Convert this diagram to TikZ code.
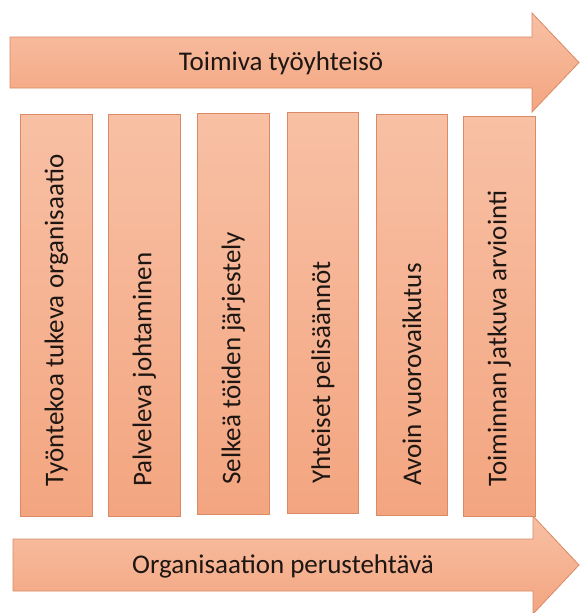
\documentclass[tikz,border=0pt]{standalone}
\usepackage{fontspec}
\setmainfont{Carlito}
\definecolor{peachtop}{RGB}{248,192,164}
\definecolor{peachbot}{RGB}{243,165,128}
\definecolor{peachedge}{RGB}{218,138,100}
\definecolor{inktext}{RGB}{30,22,18}
\tikzset{
  band/.style={draw=peachedge, line width=0.8pt, top color=peachtop, bottom color=peachbot, line join=miter},
  pillar/.style={band, rectangle, inner sep=0pt, anchor=north west},
  pillartext/.style={rotate=90, anchor=west, inner sep=0pt, text=inktext, font=\fontsize{27}{32}\selectfont},
  bandtext/.style={text=inktext, font=\fontsize{27}{32}\selectfont, inner sep=0pt}
}
\begin{document}
\begin{tikzpicture}[x=1pt, y=-1pt]
\useasboundingbox[fill=white] (0,0) rectangle (579,613);

% upper arrow
\draw[band] (10,37) -- (532,37) -- (532,13) -- (579,62.5) -- (532,112) -- (532,88) -- (10,88) -- cycle;
\node[bandtext] (top) at (281,63) {Toimiva työyhteisö};

% lower arrow
\draw[band] (13,539) -- (533,539) -- (533,516) -- (579,565) -- (533,614) -- (533,591) -- (13,591) -- cycle;
\node[bandtext] (bottom) at (283,566) {Organisaation perustehtävä};

% pillars
\node[pillar, minimum width=72pt, minimum height=402pt] (p1) at (20,114) {};
\node[pillar, minimum width=72pt, minimum height=402pt] (p2) at (108,114) {};
\node[pillar, minimum width=72pt, minimum height=401pt] (p3) at (197,113) {};
\node[pillar, minimum width=71pt, minimum height=401pt] (p4) at (287,112) {};
\node[pillar, minimum width=71pt, minimum height=401pt] (p5) at (376,114) {};
\node[pillar, minimum width=72pt, minimum height=400pt] (p6) at (463,116) {};

% labels start a fixed distance above each pillar's foot
\node[pillartext] (t1) at ([yshift=30pt]p1.south) {Työntekoa tukeva organisaatio};
\node[pillartext] (t2) at ([yshift=30pt]p2.south) {Palveleva johtaminen};
\node[pillartext] (t3) at ([yshift=30pt]p3.south) {Selkeä töiden järjestely};
\node[pillartext] (t4) at ([yshift=30pt]p4.south) {Yhteiset pelisäännöt};
\node[pillartext] (t5) at ([yshift=30pt]p5.south) {Avoin vuorovaikutus};
\node[pillartext] (t6) at ([yshift=30pt]p6.south) {Toiminnan jatkuva arviointi};
\end{tikzpicture}
\end{document}
